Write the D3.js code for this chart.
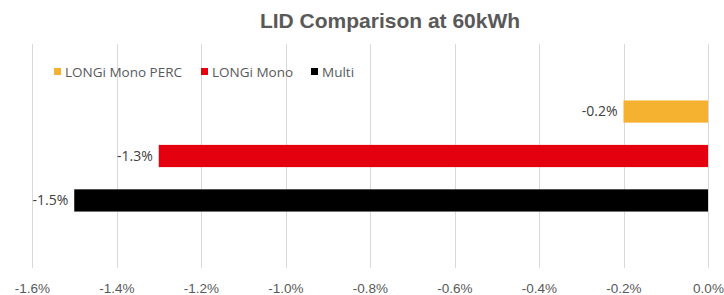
<!DOCTYPE html>
<html>
<head>
<meta charset="utf-8">
<script src="https://cdnjs.cloudflare.com/ajax/libs/d3/7.8.5/d3.min.js"></script>
<style>
  body { margin: 0; background: #fff; }
  svg { display: block; }
</style>
</head>
<body>
<script>
// chart data
var series = ["LONGi Mono PERC", "LONGi Mono", "Multi"];
var values = [-0.2, -1.3, -1.5];
var colors = ["#f5b230", "#e5000f", "#000000"];
var ticks = [-1.6, -1.4, -1.2, -1.0, -0.8, -0.6, -0.4, -0.2, 0.0];

var W = 724, H = 295;

var svg = d3.select("body").append("svg")
    .attr("width", W)
    .attr("height", H);

svg.append("rect").attr("width", W).attr("height", H).style("fill", "#fff");

var x = d3.scaleLinear().domain([-1.6, 0]).range([32, 708]);
var y = d3.scaleBand().domain(series).range([44, 268])
    .paddingInner(0.5).paddingOuter(1.27);

var pct = function(d) { return d3.format(".1f")(d).replace("−", "-").replace("-0.0", "0.0") + "%"; };

// gridlines
svg.append("g").selectAll("line")
    .data(ticks)
    .enter()
    .append("line")
    .attr("x1", function(d) { return Math.round(x(d)) + 0.5; })
    .attr("x2", function(d) { return Math.round(x(d)) + 0.5; })
    .attr("y1", 44)
    .attr("y2", 268)
    .attr("stroke", "#d9d9d9")
    .attr("stroke-width", 1);

// tick labels
var xAxis = d3.axisBottom(x).tickValues(ticks).tickSize(0).tickPadding(0)
    .tickFormat(pct);
var ax = svg.append("g").attr("transform", "translate(0,283)").call(xAxis);
ax.select(".domain").remove();
ax.selectAll("text")
    .style("font-family", "'Liberation Sans', Arial, sans-serif")
    .style("font-size", "13.5px")
    .attr("fill", "#595959")
    .attr("dy", "0.71em");

// bars
svg.append("g").selectAll("rect")
    .data(values)
    .enter()
    .append("rect")
    .attr("x", function(d) { return x(d); })
    .attr("width", function(d) { return x(0) - x(d); })
    .attr("y", function(d, i) { return y(series[i]); })
    .attr("height", y.bandwidth())
    .style("fill", function(d, i) { return colors[i]; });

// data labels
svg.append("g").selectAll("text")
    .data(values)
    .enter()
    .append("text")
    .attr("x", function(d) { return x(d) - 6; })
    .attr("y", function(d, i) { return y(series[i]) + y.bandwidth() / 2; })
    .attr("dy", "0.35em")
    .attr("text-anchor", "end")
    .style("font-family", "'Open Sans', sans-serif")
    .style("font-size", "14px")
    .style("fill", "#404040")
    .text(pct);

// title
svg.append("text")
    .attr("x", 390)
    .attr("y", 28)
    .attr("text-anchor", "middle")
    .style("font-family", "'Liberation Sans', Arial, sans-serif")
    .style("font-weight", "bold")
    .style("font-size", "21px")
    .style("fill", "#595959")
    .text("LID Comparison at 60kWh");

// legend
var legX = [54, 201, 311];
var leg = svg.append("g").selectAll("g")
    .data(series)
    .enter()
    .append("g")
    .attr("transform", function(d, i) { return "translate(" + legX[i] + ",72)"; });
leg.append("rect")
    .attr("x", 0).attr("y", -4)
    .attr("width", 7).attr("height", 7)
    .style("fill", function(d, i) { return colors[i]; });
leg.append("text")
    .attr("x", 11)
    .attr("dy", "0.35em")
    .style("font-family", "'Open Sans', sans-serif")
    .style("font-size", "13.5px")
    .style("fill", "#595959")
    .text(function(d) { return d; });
</script>
</body>
</html>
